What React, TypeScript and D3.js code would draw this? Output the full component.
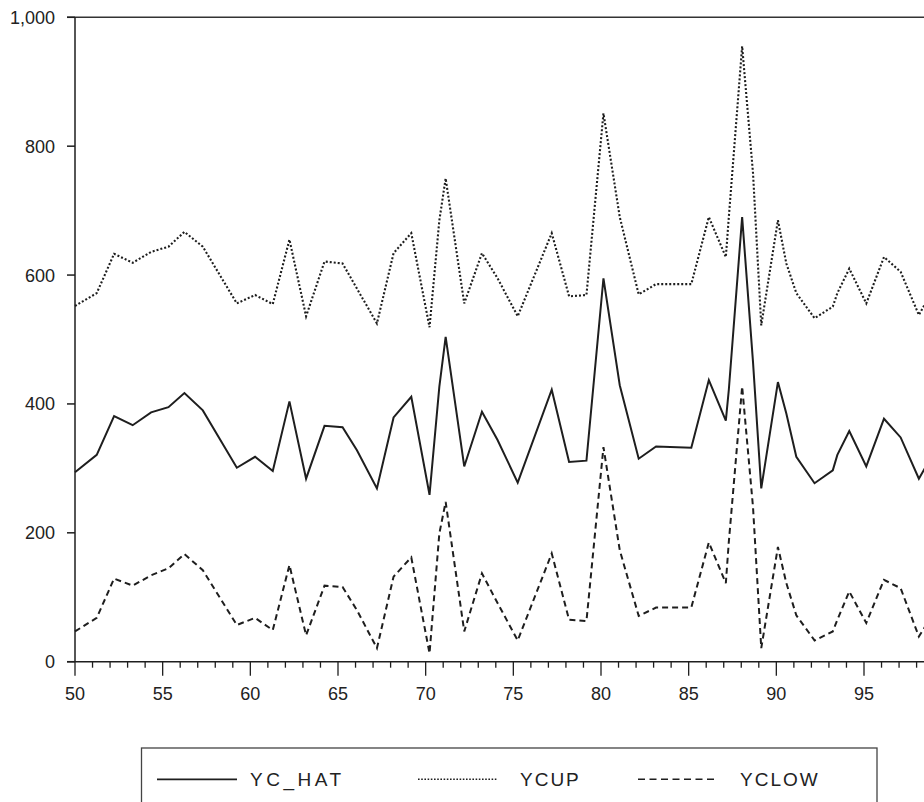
import React from "react";
import * as d3 from "d3";

// Shared x values (XY line plot)
const xVals = [50.0, 51.24, 52.23, 53.29, 54.34, 55.33, 56.24, 57.29, 59.23, 60.27, 61.28, 62.23, 63.18, 64.23, 65.26, 66.08, 67.22, 68.17, 69.18, 70.22, 70.78, 71.14, 72.2, 73.21, 74.1, 75.25, 77.19, 78.18, 79.17, 80.14, 81.07, 82.15, 83.14, 85.15, 86.15, 87.12, 87.29, 88.05, 88.67, 89.14, 90.09, 90.57, 91.14, 92.18, 93.22, 93.48, 94.16, 95.13, 96.14, 97.09, 98.13, 99.2];
const ycHat = [294, 321, 381, 367, 387, 395, 417, 390, 301, 318, 296, 404, 284, 366, 364, 328, 269, 379, 411, 259, 427, 504, 303, 388, 344, 278, 422, 310, 312, 595, 429, 315, 334, 332, 437, 374, 422, 690, 465, 269, 434, 385, 318, 277, 297, 321, 358, 303, 377, 348, 284, 335];
const ycUp = [552, 572, 633, 619, 636, 644, 667, 644, 556, 569, 555, 655, 536, 621, 618, 579, 525, 634, 665, 519, 685, 750, 556, 634, 595, 536, 665, 567, 569, 851, 690, 570, 586, 586, 690, 628, 690, 955, 758, 522, 685, 618, 572, 533, 551, 572, 610, 556, 628, 605, 538, 590];
const ycLow = [47, 68, 129, 118, 134, 145, 167, 142, 57, 68, 49, 150, 41, 118, 116, 80, 21, 132, 162, 13, 199, 248, 47, 137, 91, 33, 168, 65, 63, 333, 173, 71, 84, 84, 185, 122, 186, 427, 240, 21, 178, 122, 72, 33, 47, 65, 109, 60, 127, 114, 39, 85];

const yTicks = [0, 200, 400, 600, 800, 1000];
const xLabels = [50, 55, 60, 65, 70, 75, 80, 85, 90, 95];
const seriesNames = ["YC_HAT", "YCUP", "YCLOW"];

const FONT = "'Liberation Sans', Arial, sans-serif";
const INK = "#1e1e1e";

export default function App() {
  const x = d3.scaleLinear().domain([50, 95]).range([75, 864]);
  const y = d3.scaleLinear().domain([0, 1000]).range([661.7, 17.3]);
  const fmt = d3.format(",");

  const mk = (vals: number[]) =>
    d3
      .line<number>()
      .x((_, i) => x(xVals[i]))
      .y((v) => y(v))(vals) as string;

  const minorTicks = d3.range(50, 100);
  const x0 = x(50);
  const yBase = y(0);
  const yTop = y(1000);

  const styles = [
    { d: mk(ycHat), dash: undefined as string | undefined, w: 2 },
    { d: mk(ycUp), dash: "2,2", w: 2.1 },
    { d: mk(ycLow), dash: "6,4", w: 2 },
  ];

  const legend = [
    { x1: 157, x2: 237, tx: 250, dash: undefined as string | undefined, w: 1.8, ls: 3.5 },
    { x1: 418, x2: 497, tx: 520, dash: "1.6,1.6", w: 1.6, ls: 2 },
    { x1: 638, x2: 718, tx: 740, dash: "7,4.5", w: 1.6, ls: 2 },
  ];

  return (
    <svg
      width={924}
      height={802}
      style={{ position: "absolute", left: 0, top: 0, background: "#fff" }}
      fontFamily={FONT}
    >
      <rect x={0} y={0} width={924} height={802} fill="#fff" />
      {/* top frame line */}
      <line x1={67} x2={1000} y1={yTop} y2={yTop} stroke="#333" strokeWidth={1.5} />
      {/* y axis */}
      <line x1={x0} x2={x0} y1={yTop} y2={yBase} stroke={INK} strokeWidth={1.5} />
      {yTicks.map((t) => (
        <g key={t}>
          <line x1={67} x2={x0} y1={y(t)} y2={y(t)} stroke={INK} strokeWidth={1.5} />
          <text x={55} y={y(t)} dy="0.36em" textAnchor="end" fontSize={18} fill="#222">
            {fmt(t)}
          </text>
        </g>
      ))}
      {/* x axis */}
      <line x1={67} x2={1000} y1={yBase} y2={yBase} stroke={INK} strokeWidth={1.5} />
      {minorTicks.map((t) => (
        <line
          key={t}
          x1={x(t)}
          x2={x(t)}
          y1={yBase}
          y2={yBase + (t % 5 === 0 ? 14 : 6)}
          stroke={INK}
          strokeWidth={1.3}
        />
      ))}
      {xLabels.map((t) => (
        <text key={t} x={x(t)} y={700} textAnchor="middle" fontSize={18} fill="#222">
          {t}
        </text>
      ))}
      {/* series */}
      {styles.map((s, i) => (
        <path
          key={i}
          d={s.d}
          fill="none"
          stroke={INK}
          strokeWidth={s.w}
          strokeDasharray={s.dash}
          strokeLinejoin="miter"
        />
      ))}
      {/* legend */}
      <rect x={141.5} y={748} width={735.5} height={100} fill="none" stroke="#444" strokeWidth={1.3} />
      {legend.map((l, i) => (
        <g key={i}>
          <line x1={l.x1} x2={l.x2} y1={779.3} y2={779.3} stroke={INK} strokeWidth={l.w} strokeDasharray={l.dash} />
          <text x={l.tx} y={779.3} dy="0.36em" fontSize={19} letterSpacing={l.ls} fill="#222">
            {seriesNames[i]}
          </text>
        </g>
      ))}
    </svg>
  );
}
